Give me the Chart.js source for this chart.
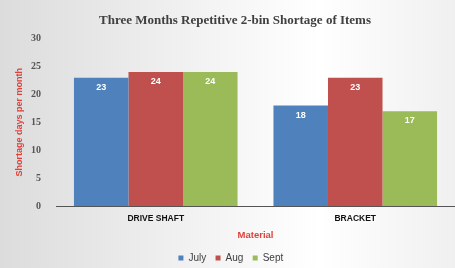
<!DOCTYPE html>
<html>
<head>
<meta charset="utf-8">
<script src="https://cdn.jsdelivr.net/npm/chart.js@4"></script>
<style>
  html, body { margin: 0; padding: 0; }
  body { width: 455px; height: 268px; background: linear-gradient(90deg, #dcdcdc 0%, #f3f3f3 45%, #ffffff 70%, #f0f0f0 100%); }
  #wrap { position: relative; width: 455px; height: 268px; }
</style>
</head>
<body>
<div id="wrap"><canvas id="barChart" width="455" height="268"></canvas></div>
<script>
// Chart data
const materials = ['DRIVE SHAFT', 'BRACKET'];
const months = ['July', 'Aug', 'Sept'];
const julyDays = [23, 18];
const augDays = [24, 23];
const septDays = [24, 17];
const monthColors = ['#4f81bd', '#c0504d', '#9bbb59'];

// Small plugin: white value labels inside the top of each bar
const barValueLabels = {
    id: 'barValueLabels',
    afterDatasetsDraw(chart) {
        const ctx = chart.ctx;
        ctx.save();
        ctx.fillStyle = '#ffffff';
        ctx.font = 'bold 9px "Liberation Sans", Arial, sans-serif';
        ctx.textAlign = 'center';
        ctx.textBaseline = 'top';
        chart.data.datasets.forEach(function (ds, i) {
            chart.getDatasetMeta(i).data.forEach(function (bar, j) {
                ctx.fillText(ds.data[j], bar.x, bar.y + 5);
            });
        });
        ctx.restore();
    }
};

const seriesValues = [julyDays, augDays, septDays];
const barChartData = {
    labels: materials,
    datasets: months.map(function (m, i) {
        return {
            label: m,
            data: seriesValues[i],
            backgroundColor: monthColors[i],
            borderWidth: 0,
        };
    })
};

const barChartCtx = document.getElementById('barChart').getContext('2d');
new Chart(barChartCtx, {
    type: 'bar',
    data: barChartData,
    plugins: [barValueLabels],
    options: {
        responsive: false,
        animation: false,
        layout: { padding: { left: 15, right: 0, top: 3, bottom: -5 } },
        datasets: { bar: { categoryPercentage: 0.82, barPercentage: 1.0 } },
        plugins: {
            title: {
                display: true,
                text: 'Three Months Repetitive 2-bin Shortage of Items',
                color: '#404040',
                font: { family: '"Liberation Serif", "Times New Roman", serif', size: 13, weight: 'bold' },
                padding: { top: 10, bottom: 10 },
            },
            legend: {
                display: true,
                position: 'bottom',
                labels: {
                    boxWidth: 5,
                    boxHeight: 5,
                    padding: 1,
                    color: '#404040',
                    font: { family: '"Liberation Sans", Arial, sans-serif', size: 10 },
                    generateLabels: function (chart) {
                        const items = Chart.defaults.plugins.legend.labels.generateLabels(chart);
                        items.forEach(function (it) { it.text = it.text + '   '; });
                        return items;
                    },
                },
            },
            tooltip: { enabled: false },
        },
        scales: {
            x: {
                grid: { display: false, drawTicks: false },
                border: { display: true, color: '#555555', width: 1 },
                ticks: {
                    color: '#111111',
                    padding: 8,
                    font: { family: '"Liberation Sans", Arial, sans-serif', size: 8.5, weight: 'bold', lineHeight: 1 },
                },
                title: {
                    display: true,
                    text: 'Material',
                    color: '#e0403a',
                    font: { family: '"Liberation Sans", Arial, sans-serif', size: 9.5, weight: 'bold', lineHeight: 1 },
                    padding: { top: 0, bottom: 12 },
                },
            },
            y: {
                min: 0,
                max: 30,
                grid: { display: false },
                border: { display: false },
                ticks: {
                    stepSize: 5,
                    color: '#555555',
                    padding: 7,
                    font: { family: '"Liberation Serif", "Times New Roman", serif', size: 10, weight: 'bold' },
                },
                title: {
                    display: true,
                    text: 'Shortage days per month',
                    color: '#e0403a',
                    font: { family: '"Liberation Sans", Arial, sans-serif', size: 9, weight: 'bold', lineHeight: 1 },
                    padding: { top: 0, bottom: 0 },
                },
            },
        },
    },
});
</script>
</body>
</html>
